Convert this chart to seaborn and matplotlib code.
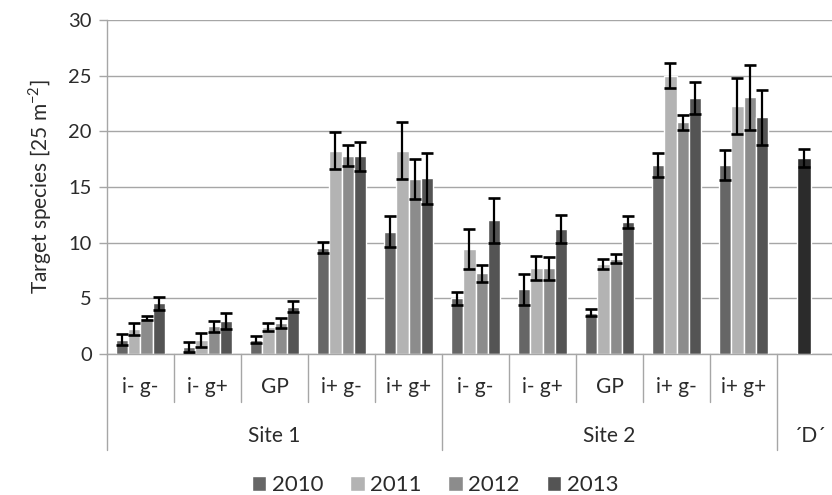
import matplotlib
matplotlib.use('Agg')
import matplotlib.pyplot as plt
import matplotlib.transforms as mtransforms
import pandas as pd
import seaborn as sns


SITES = ['Site 1', 'Site 2']
TREATMENTS = ['i- g-', 'i- g+', 'GP', 'i+ g-', 'i+ g+']
YEARS = ['2010', '2011', '2012', '2013']

# means, Site 1 treatments then Site 2 treatments
MEAN_2010 = [1.3, 0.6, 1.3, 9.55, 11.0, 5.0, 5.8, 3.7, 17.0, 17.0]
MEAN_2011 = [2.25, 1.25, 2.45, 18.25, 18.25, 9.45, 7.75, 8.05, 25.0, 22.3]
MEAN_2012 = [3.25, 2.5, 2.75, 17.8, 15.75, 7.25, 7.7, 8.55, 20.8, 23.05]
MEAN_2013 = [4.55, 2.95, 4.25, 17.75, 15.8, 12.0, 11.25, 11.85, 23.0, 21.25]

ERR_2010 = [0.5, 0.45, 0.33, 0.5, 1.4, 0.6, 1.4, 0.3, 1.1, 1.35]
ERR_2011 = [0.5, 0.6, 0.35, 1.65, 2.55, 1.8, 1.1, 0.45, 1.1, 2.5]
ERR_2012 = [0.2, 0.5, 0.45, 0.95, 1.8, 0.75, 1.05, 0.4, 0.65, 2.9]
ERR_2013 = [0.6, 0.7, 0.5, 1.3, 2.3, 2.0, 1.25, 0.55, 1.45, 2.5]

D_LABEL = '\u00b4D\u00b4'
D_MEAN = 17.6
D_ERR = 0.8

COLORS = ['#666666', '#b3b3b3', '#8c8c8c', '#545454']
D_COLOR = '#2b2b2b'
TEXT = '#2b2b2b'
LINE = '#a6a6a6'


def build_frame():
    means = [MEAN_2010, MEAN_2011, MEAN_2012, MEAN_2013]
    errs = [ERR_2010, ERR_2011, ERR_2012, ERR_2013]
    keys = [f'{s}|{t}' for s in SITES for t in TREATMENTS]
    rows = []
    for year, m, e in zip(YEARS, means, errs):
        for k, mv, ev in zip(keys, m, e):
            rows.append({'key': k, 'year': year, 'mean': mv, 'err': ev})
    return pd.DataFrame(rows), keys


def draw_axis_labels(ax, keys):
    trans = mtransforms.blended_transform_factory(ax.transData, ax.transAxes)
    kw = dict(transform=trans, clip_on=False, color=LINE, lw=1)
    n = len(keys)
    for i in range(n + 1):
        x = i - 0.5
        long_line = i % len(TREATMENTS) == 0
        ax.plot([x, x], [0, -0.287 if long_line else -0.144], **kw)
    for i, k in enumerate(keys):
        ax.text(i, -0.099, k.split('|')[1], transform=trans, ha='center',
                va='center', fontsize=15, color=TEXT)
    for j, site in enumerate(SITES):
        xc = j * len(TREATMENTS) + (len(TREATMENTS) - 1) / 2
        ax.text(xc, -0.246, site, transform=trans, ha='center',
                va='center', fontsize=15, color=TEXT)
    ax.text(n, -0.246, D_LABEL, transform=trans, ha='center',
            va='center', fontsize=15, color=TEXT)


def main():
    sns.set_theme(style='white')
    plt.rcParams['font.family'] = ['Lato', 'DejaVu Sans']
    plt.rcParams['mathtext.fontset'] = 'custom'
    plt.rcParams['mathtext.rm'] = 'Lato'

    df, keys = build_frame()
    fig = plt.figure(figsize=(8.32, 4.95), dpi=100)
    ax = fig.add_axes([0.1286, 0.2848, 0.8714, 0.6747])

    sns.barplot(data=df, x='key', y='mean', hue='year', order=keys + ['D'],
                hue_order=YEARS, palette=COLORS, width=0.74, errorbar=None,
                saturation=1, ax=ax, legend=True)

    bar_conts = list(ax.containers)[:len(YEARS)]
    for j, cont in enumerate(bar_conts):
        sub = df[df['year'] == YEARS[j]].set_index('key')
        xs, ys, es = [], [], []
        for bar in cont:
            xc = bar.get_x() + bar.get_width() / 2
            k = keys[int(round(xc))]
            xs.append(xc)
            ys.append(sub.loc[k, 'mean'])
            es.append(sub.loc[k, 'err'])
        ax.errorbar(xs, ys, yerr=es, fmt='none', ecolor='black',
                    elinewidth=1.6, capsize=4.6, capthick=1.9, zorder=5)

    ax.bar([9.9], [D_MEAN], width=0.2, color=D_COLOR, zorder=3)
    ax.errorbar([9.9], [D_MEAN], yerr=[D_ERR], fmt='none', ecolor='black',
                elinewidth=1.6, capsize=4.6, capthick=1.9, zorder=5)

    ax.set_xlim(-0.5, 10.32)
    ax.set_ylim(0, 30)
    ax.set_yticks(range(0, 31, 5))
    ax.yaxis.grid(True, color=LINE, lw=1)
    ax.set_axisbelow(True)
    ax.set_xticks([])
    ax.set_xlabel('')
    ax.set_ylabel(r'Target species [25 m$^{\mathregular{-2}}$]', fontsize=15,
                  color=TEXT, labelpad=10)
    ax.tick_params(axis='y', left=True, length=6, width=1, color=LINE,
                   labelsize=14.5, labelcolor=TEXT, pad=5)
    for side in ['top', 'right']:
        ax.spines[side].set_visible(False)
    for side in ['left', 'bottom']:
        ax.spines[side].set_color(LINE)
        ax.spines[side].set_linewidth(1)

    draw_axis_labels(ax, keys)

    handles, labels = ax.get_legend_handles_labels()
    ax.legend(handles, labels, loc='center', bbox_to_anchor=(435 / 832, 10 / 495),
              bbox_transform=fig.transFigure, ncol=4, frameon=False,
              fontsize=16, handlelength=0.65, handleheight=0.65,
              handletextpad=0.25, columnspacing=1.2, labelcolor=TEXT)

    fig.savefig('out.png', dpi=100)


if __name__ == '__main__':
    main()
